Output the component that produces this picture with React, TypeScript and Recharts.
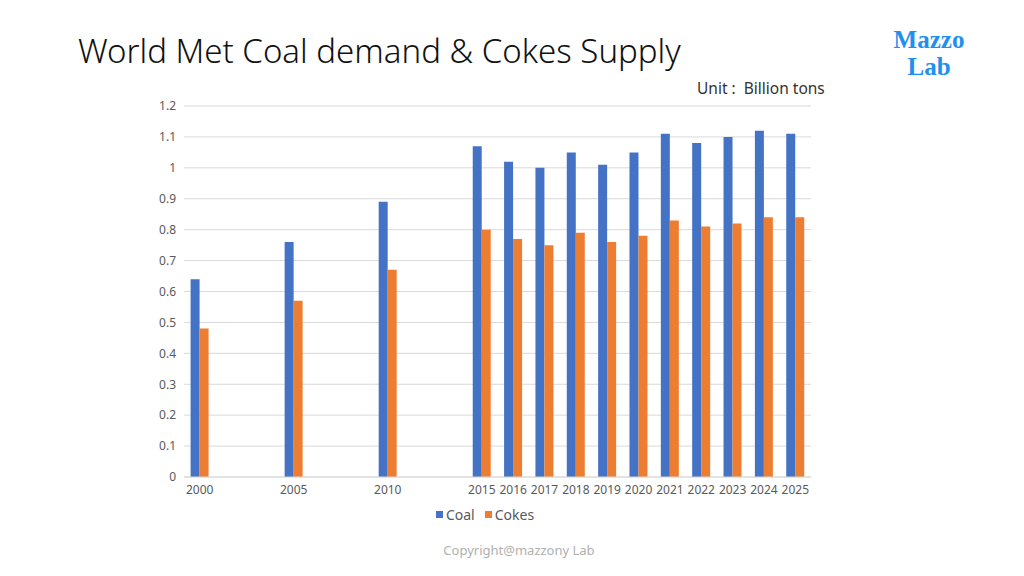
import { BarChart, Bar, XAxis, YAxis, CartesianGrid, Legend } from 'recharts';

// blank labels keep the gaps between 2000, 2005, 2010 and 2015
const years = ['2000', '', '', '2005', '', '', '2010', '', '', '2015', '2016', '2017', '2018', '2019', '2020', '2021', '2022', '2023', '2024', '2025'];
const coal = [0.64, null, null, 0.76, null, null, 0.89, null, null, 1.07, 1.02, 1.0, 1.05, 1.01, 1.05, 1.11, 1.08, 1.1, 1.12, 1.11];
const cokes = [0.48, null, null, 0.57, null, null, 0.67, null, null, 0.8, 0.77, 0.75, 0.79, 0.76, 0.78, 0.83, 0.81, 0.82, 0.84, 0.84];
const yTicks = [0, 0.1, 0.2, 0.3, 0.4, 0.5, 0.6, 0.7, 0.8, 0.9, 1, 1.1, 1.2];

const data = years.map((year, i) => ({ year, coal: coal[i], cokes: cokes[i] }));

const FONT = '"Noto Sans", "Noto Sans CJK JP", sans-serif';
const LOGO = {
  position: 'absolute' as const,
  left: 870,
  width: 118,
  textAlign: 'center' as const,
  fontFamily: '"Liberation Serif", "DejaVu Serif", serif',
  fontWeight: 'bold' as const,
  fontSize: 25,
  lineHeight: '25px',
  color: '#1E90F0',
};

function LegendBox() {
  return (
    <div style={{ display: 'flex', justifyContent: 'center', gap: 10, fontFamily: FONT, fontSize: 14, color: '#595959' }}>
      <span style={{ display: 'flex', alignItems: 'center', gap: 3 }}>
        <span style={{ width: 7, height: 7, background: '#4472C4' }} />Coal
      </span>
      <span style={{ display: 'flex', alignItems: 'center', gap: 3 }}>
        <span style={{ width: 7, height: 7, background: '#ED7D31' }} />Cokes
      </span>
    </div>
  );
}

export default function App() {
  return (
    <div style={{ position: 'absolute', left: 0, top: 0, width: 1024, height: 576, background: '#fff', fontFamily: FONT }}>
      <div style={{ position: 'absolute', left: 78, top: 28, fontSize: 33, color: '#111', whiteSpace: 'nowrap', fontWeight: 300 }}>
        World Met Coal demand &amp; Cokes Supply
      </div>
      <div style={{ position: 'absolute', left: 697, top: 77, fontSize: 15.5, color: '#333', whiteSpace: 'nowrap' }}>
        Unit :&nbsp; Billion tons
      </div>
      <div style={{ ...LOGO, top: 27 }}>Mazzo</div>
      <div style={{ ...LOGO, top: 54 }}>Lab</div>
      <div style={{ position: 'absolute', left: 0, width: 1038, top: 541, textAlign: 'center', fontSize: 13, color: '#b0b0b0' }}>
        Copyright@mazzony Lab
      </div>
      <div style={{ position: 'absolute', left: 0, top: 0 }}>
        <BarChart
          width={1024}
          height={576}
          data={data}
          margin={{ top: 106, right: 213, left: 144, bottom: 50 }}
          barCategoryGap="21%"
          barGap={0}
        >
          <CartesianGrid vertical={false} stroke="#d9d9d9" />
          <XAxis
            dataKey="year"
            interval={0}
            tickLine={false}
            axisLine={{ stroke: '#d9d9d9' }}
            tick={{ fontSize: 12, fill: '#595959', fontFamily: FONT }}
            height={30}
          />
          <YAxis
            domain={[0, 1.2]}
            ticks={yTicks}
            axisLine={false}
            tickLine={false}
            width={40}
            tick={{ fontSize: 12, fill: '#595959', fontFamily: FONT }}
          />
          <Legend
            verticalAlign="bottom"
            content={<LegendBox />}
            wrapperStyle={{ top: 505, left: -27, width: 1024 }}
          />
          <Bar dataKey="coal" name="Coal" fill="#4472C4" isAnimationActive={false} />
          <Bar dataKey="cokes" name="Cokes" fill="#ED7D31" isAnimationActive={false} />
        </BarChart>
      </div>
    </div>
  );
}
